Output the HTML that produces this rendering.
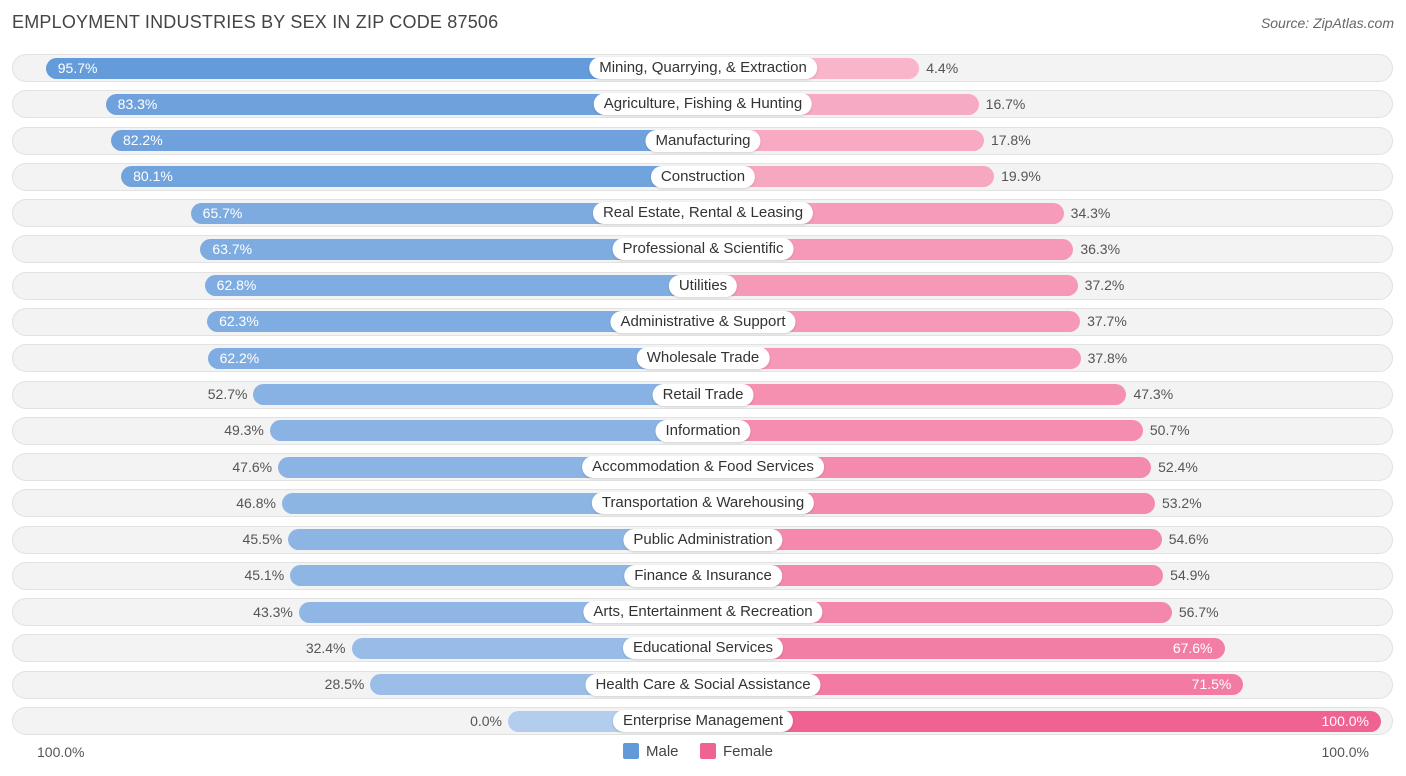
<!DOCTYPE html>
<html><head><meta charset="utf-8"><style>
body{margin:0;width:1406px;height:776px;background:#fff;font-family:"Liberation Sans",sans-serif;position:relative;overflow:hidden}
.abs{position:absolute}
.title{left:12px;top:12px;font-size:18px;color:#444;letter-spacing:.2px}
.src{right:12px;top:15px;font-size:14px;color:#666;font-style:italic}
.row{left:12px;width:1381px;height:28px;border-radius:14px;background:#f3f3f3;box-shadow:inset 0 0 0 1px #e2e2e2}
.bar{height:21px;border-radius:11px}
.lab{height:22px;line-height:22px;padding:0 10px;background:#fff;border-radius:11px;font-size:15px;color:#333;transform:translateX(-50%);white-space:nowrap;box-shadow:0 1px 2px rgba(0,0,0,.15)}
.val{font-size:14px;line-height:21px;color:#555}
.in{color:#fff}
</style></head><body>
<div class="abs title">EMPLOYMENT INDUSTRIES BY SEX IN ZIP CODE 87506</div>
<div class="abs src">Source: ZipAtlas.com</div>
<div id="chart"></div>
<div class="abs" style="left:37px;top:744px;font-size:14px;color:#555">100.0%</div>
<div class="abs" style="right:37px;top:744px;font-size:14px;color:#555">100.0%</div>
<div class="abs" style="left:623px;top:743px;width:16px;height:16px;background:#6199d9;border-radius:2px"></div>
<div class="abs" style="left:646px;top:743px;font-size:15px;color:#444">Male</div>
<div class="abs" style="left:700px;top:743px;width:16px;height:16px;background:#f06292;border-radius:2px"></div>
<div class="abs" style="left:723px;top:743px;font-size:15px;color:#444">Female</div>
<script>
const categories=["Mining, Quarrying, & Extraction","Agriculture, Fishing & Hunting","Manufacturing","Construction","Real Estate, Rental & Leasing","Professional & Scientific","Utilities","Administrative & Support","Wholesale Trade","Retail Trade","Information","Accommodation & Food Services","Transportation & Warehousing","Public Administration","Finance & Insurance","Arts, Entertainment & Recreation","Educational Services","Health Care & Social Assistance","Enterprise Management"];
const male=[95.7,83.3,82.2,80.1,65.7,63.7,62.8,62.3,62.2,52.7,49.3,47.6,46.8,45.5,45.1,43.3,32.4,28.5,0.0];
const female=[4.4,16.7,17.8,19.9,34.3,36.3,37.2,37.7,37.8,47.3,50.7,52.4,53.2,54.6,54.9,56.7,67.6,71.5,100.0];
const cx=703,base=195,k=4.83,top0=68,step=36.28;
function w(v){return base+k*v;}
function mix(a,b,t){return 'rgb('+a.map((x,i)=>Math.round(x+(b[i]-x)*t)).join(',')+')';}
const c=document.getElementById('chart');
function mk(cls,name,st,txt){const d=document.createElement('div');d.className='abs '+cls;


Object.assign(d.style,st);if(txt!==undefined)d.textContent=txt;c.appendChild(d);return d;}
categories.forEach((cat,i)=>{
 const y=top0+i*step;
 mk('row','row-bg',{top:(y-14)+'px'});
 const mw=w(male[i]),fw=w(female[i]);
 mk('bar','bar-male',{left:(cx-mw)+'px',width:mw+'px',top:(y-10.5)+'px',background:mix([178,205,238],[97,153,217],male[i]/100)});
 mk('bar','bar-female',{left:cx+'px',width:fw+'px',top:(y-10.5)+'px',background:mix([249,185,205],[240,98,146],female[i]/100)});
 const mt=male[i].toFixed(1)+'%',ft=female[i].toFixed(1)+'%';
 if(male[i]>60) mk('val in','value-male',{left:(cx-mw+12)+'px',top:(y-10.5)+'px'},mt);
 else mk('val','value-male',{right:(1406-(cx-mw)+6)+'px',top:(y-10.5)+'px'},mt);
 if(female[i]>60) mk('val in','value-female',{right:(1406-(cx+fw)+12)+'px',top:(y-10.5)+'px'},ft);
 else mk('val','value-female',{left:(cx+fw+7)+'px',top:(y-10.5)+'px'},ft);
 mk('lab','category-label',{left:cx+'px',top:(y-11)+'px'},cat);
});
</script>
</body></html>
